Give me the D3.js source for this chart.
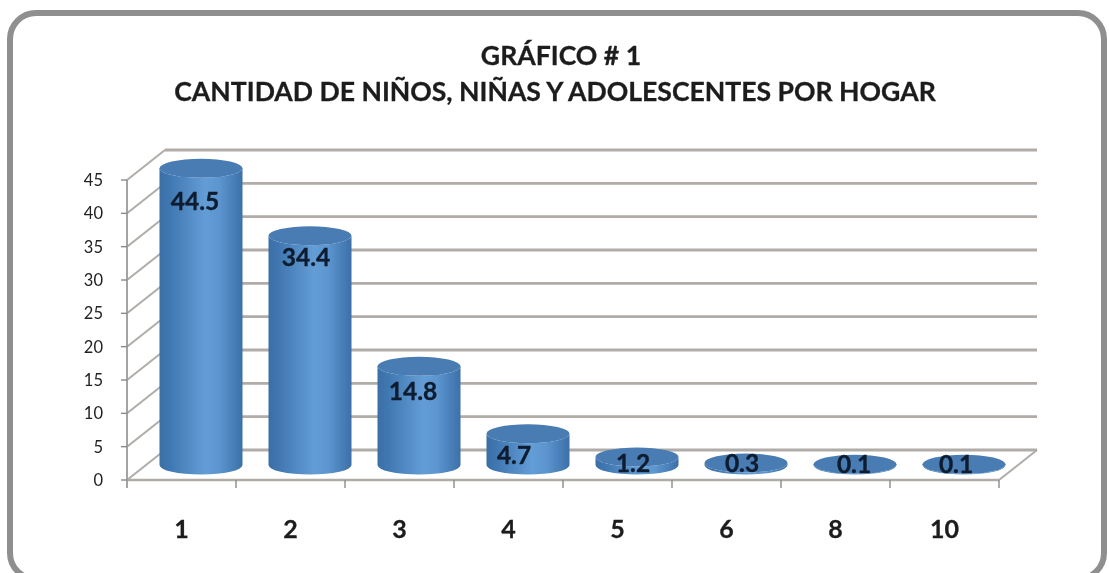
<!DOCTYPE html>
<html><head><meta charset="utf-8">
<style>html,body{margin:0;padding:0;background:#fff;overflow:hidden}svg{display:block}</style>
<script src="https://cdn.jsdelivr.net/npm/d3@7/dist/d3.min.js"></script></head><body>
<svg id="c" width="1109" height="573"></svg>
<script>
const categories = ["1","2","3","4","5","6","8","10"];
const values = [44.5,34.4,14.8,4.7,1.2,0.3,0.1,0.1];
const yTicks = [0,5,10,15,20,25,30,35,40,45];
const titleLines = ["GRÁFICO # 1","CANTIDAD DE NIÑOS, NIÑAS Y ADOLESCENTES POR HOGAR"];

const svg = d3.select("#c");
const font = "Lato, 'Open Sans', sans-serif";
const x = d3.scaleBand().domain(categories).range([127,999]);
const y = d3.scaleLinear().domain([0,45]).range([480,180]);
const depthX = 38, depthY = -30, midX = 19.5, midY = -15, rx = 41.5, ry = 9.5;
const labelNudge = [[-6,33],[-4,22],[-6,25],[-14,22],[-4,6],[-4,0],[-1,0],[-8,0]];

const defs = svg.append("defs");
const g = defs.append("linearGradient").attr("id","cyl");
[[0,"#3a6ea6"],[0.12,"#4077b1"],[0.55,"#639dd6"],[0.72,"#5c95cf"],[1,"#3c70a8"]].forEach(s=>
  g.append("stop").attr("offset",s[0]).attr("stop-color",s[1]));
defs.append("filter").attr("id","soft").append("feGaussianBlur").attr("stdDeviation",0.6);

const root = svg.append("g").attr("filter","url(#soft)");
root.append("rect").attr("x",-10).attr("y",-10).attr("width",1130).attr("height",600).attr("fill","#fff");
root.append("rect").attr("x",10).attr("y",13).attr("width",1094).attr("height",566).attr("rx",26)
  .attr("fill","#fff").attr("stroke","#8f8f8f").attr("stroke-width",6);

root.selectAll(".title").data(titleLines).join("text").attr("class","title")
  .attr("x",(d,i)=>i===0?561:555).attr("y",(d,i)=>64.5+i*36.5).attr("text-anchor","middle")
  .attr("font-family",font).attr("font-weight",700).attr("font-size",26.6).attr("fill","#1c1c1c")
  .attr("stroke","#1c1c1c").attr("stroke-width",0.3).text(d=>d);

const line = "#b0aca7";
const x0 = x.range()[0], x1 = x.range()[1];
root.selectAll(".grid").data(yTicks).join("line").attr("class","grid")
  .attr("x1",x0+depthX).attr("x2",x1+depthX).attr("y1",d=>y(d)+depthY).attr("y2",d=>y(d)+depthY)
  .attr("stroke",line).attr("stroke-width",2.8);
root.selectAll(".diag").data(yTicks).join("line").attr("class","diag")
  .attr("x1",x0).attr("x2",x0+depthX).attr("y1",d=>y(d)).attr("y2",d=>y(d)+depthY)
  .attr("stroke",line).attr("stroke-width",2);
root.append("line").attr("x1",x1).attr("y1",y(0)).attr("x2",x1+depthX).attr("y2",y(0)+depthY).attr("stroke",line).attr("stroke-width",2);
root.append("line").attr("x1",x0).attr("y1",y(0)).attr("x2",x1).attr("y2",y(0)).attr("stroke",line).attr("stroke-width",2.4);
root.append("line").attr("x1",x0).attr("y1",y(45)).attr("x2",x0).attr("y2",y(0)+8).attr("stroke","#9a9a9a").attr("stroke-width",1.8);
root.selectAll(".yt").data(yTicks).join("line").attr("class","yt")
  .attr("x1",x0-6).attr("x2",x0).attr("y1",d=>y(d)).attr("y2",d=>y(d)).attr("stroke","#8a8a8a").attr("stroke-width",1.4);
root.selectAll(".xt").data(categories).join("line").attr("class","xt")
  .attr("x1",d=>x(d)+x.bandwidth()).attr("x2",d=>x(d)+x.bandwidth()).attr("y1",y(0)).attr("y2",y(0)+8).attr("stroke","#8a8a8a").attr("stroke-width",1.4);

root.selectAll(".yl").data(yTicks).join("text").attr("class","yl")
  .attr("x",x0-24).attr("y",d=>y(d)).attr("dy","0.36em").attr("text-anchor","end")
  .attr("font-family",font).attr("font-size",16.5).attr("fill","#222").text(d=>d);
root.selectAll(".xl").data(categories).join("text").attr("class","xl")
  .attr("x",d=>x(d)+x.bandwidth()/2).attr("y",538).attr("text-anchor","middle")
  .attr("font-family",font).attr("font-weight",700).attr("font-size",25).attr("fill","#1c1c1c")
  .attr("stroke","#1c1c1c").attr("stroke-width",0.3).text(d=>d);

const data = categories.map((c,i)=>({c,v:values[i],i}));
const cx = d=>x(d.c)+x.bandwidth()/2+midX;
const by = y(0)+midY;
const ty = d=>y(d.v)+midY;
const bars = root.selectAll(".bar").data(data).join("g").attr("class","bar");
bars.append("path").attr("fill","url(#cyl)").attr("d",d=>{
  const l=cx(d)-rx,r=cx(d)+rx;
  return `M${l},${ty(d)}L${l},${by}A${rx},${ry} 0 0 0 ${r},${by}L${r},${ty(d)}A${rx},${ry} 0 0 1 ${l},${ty(d)}Z`;
});
bars.append("ellipse").attr("cx",cx).attr("cy",ty).attr("rx",rx).attr("ry",ry).attr("fill","#4a7cb2");
bars.append("text").attr("x",d=>cx(d)+labelNudge[d.i][0]).attr("y",d=>ty(d)+labelNudge[d.i][1])
  .attr("dy","0.36em").attr("text-anchor","middle").attr("font-family",font).attr("font-weight",700)
  .attr("font-size",24.5).attr("fill","#0d1b2e").attr("stroke","#0d1b2e").attr("stroke-width",0.35).text(d=>d.v.toFixed(1));
</script></body></html>
